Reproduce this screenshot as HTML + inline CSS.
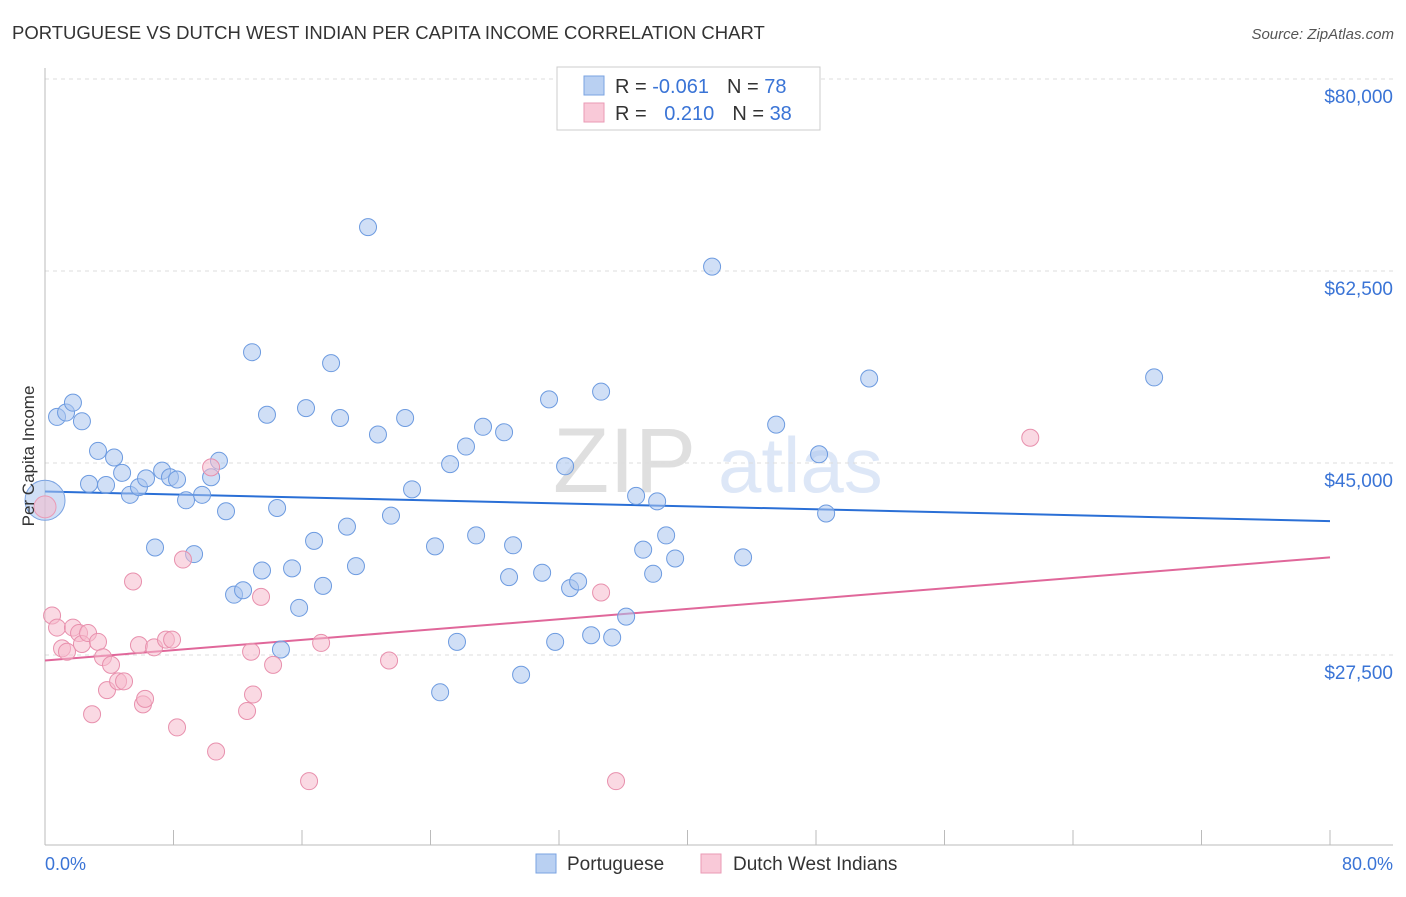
<!DOCTYPE html>
<html><head><meta charset="utf-8"><style>
body{margin:0;background:#fff;font-family:"Liberation Sans",sans-serif}
svg text{font-family:"Liberation Sans",sans-serif}
</style></head><body>
<svg id="chart" width="1406" height="892" xmlns="http://www.w3.org/2000/svg">
<text x="12" y="39" font-size="18.5" fill="#333">PORTUGUESE VS DUTCH WEST INDIAN PER CAPITA INCOME CORRELATION CHART</text>
<text x="1394" y="39" font-size="15" fill="#555" font-style="italic" text-anchor="end">Source: ZipAtlas.com</text>
<g opacity="0.18"><text x="553" y="492" font-size="92" font-family="Liberation Serif" fill="#555">ZIP</text><text x="718" y="492" font-size="78" fill="#4a7fd4">atlas</text></g>
<g id="grid"></g><g id="axes"></g><g id="trends"></g><g id="points"></g>
<text x="34" y="456" font-size="17" fill="#333" transform="rotate(-90 34 456)" text-anchor="middle">Per Capita Income</text>
<text x="45" y="870" font-size="18" fill="#3a74d6">0.0%</text>
<text x="1393" y="870" font-size="18" fill="#3a74d6" text-anchor="end">80.0%</text>
<g>
<rect x="557" y="67" width="263" height="63" fill="#fff" stroke="#ccc"/>
<rect x="584" y="76" width="20" height="19" fill="#b9d0f2" stroke="#7aa3e2"/>
<rect x="584" y="103" width="20" height="19" fill="#f9c9d8" stroke="#ea9ab5"/>
<text x="615" y="93" font-size="20" fill="#333">R = <tspan fill="#3a74d6">-0.061</tspan><tspan dx="18">N = </tspan><tspan fill="#3a74d6">78</tspan></text>
<text x="615" y="120" font-size="20" fill="#333">R = <tspan fill="#3a74d6" dx="12">0.210</tspan><tspan dx="18">N = </tspan><tspan fill="#3a74d6">38</tspan></text>
</g>
<g>
<rect x="536" y="854" width="20" height="19" fill="#b9d0f2" stroke="#7aa3e2"/>
<text x="567" y="870" font-size="19" fill="#333">Portuguese</text>
<rect x="701" y="854" width="20" height="19" fill="#f9c9d8" stroke="#ea9ab5"/>
<text x="733" y="870" font-size="19" fill="#333">Dutch West Indians</text>
</g>
</svg>
<script>
const yTicks=[27500,45000,62500,80000];
const yTickLabels=["$27,500","$45,000","$62,500","$80,000"];
const xTickValues=[0,8,16,24,32,40,48,56,64,72,80];
const blueX=[0.75,1.31,1.74,2.30,3.30,2.74,3.80,4.30,4.80,5.29,5.85,6.29,6.85,7.29,7.78,8.22,8.78,9.28,9.78,10.34,10.83,11.27,11.77,12.33,12.89,13.51,13.82,14.45,14.69,15.38,15.82,16.25,16.75,17.31,17.81,18.37,18.80,19.36,20.11,20.73,21.54,22.42,22.85,24.28,24.60,25.22,25.65,26.21,26.84,27.27,28.58,28.89,29.14,29.64,30.95,31.38,31.76,32.38,32.69,33.19,34.00,34.62,35.31,36.18,36.80,37.24,37.86,38.11,38.67,39.23,41.53,43.46,45.52,48.19,48.63,51.31,69.05];
const blueY=[49200,49600,50500,48800,46100,43100,43000,45500,44100,42100,42800,43600,37300,44300,43700,43500,41600,36700,42100,43700,45200,40600,33000,33400,55100,35200,49400,40900,28000,35400,31800,50000,37900,33800,54100,49100,39200,35600,66500,47600,40200,49100,42600,37400,24100,44900,28700,46500,38400,48300,47800,34600,37500,25700,35000,50800,28700,44700,33600,34200,29300,51500,29100,31000,42000,37100,34900,41500,38400,36300,62900,36400,48500,45800,40400,52700,52800];
const pinkX=[0.44,0.75,1.06,1.37,1.74,2.12,2.30,2.68,2.93,3.30,3.61,3.86,4.11,4.55,4.92,5.48,5.85,6.10,6.23,6.79,7.53,7.91,8.22,8.59,10.34,10.65,12.58,12.83,12.95,13.45,14.20,16.44,17.19,21.42,34.62,35.55,61.34];
const pinkY=[31100,30000,28100,27800,30000,29500,28500,29500,22100,28700,27300,24300,26600,25100,25100,34200,28400,23000,23500,28200,28900,28900,20900,36200,44600,18700,22400,27800,23900,32800,26600,16000,28600,27000,33200,16000,47300];
const bigBlue=[0,41600], bigPink=[0,41000];
const blueTrend=[42400,39700], pinkTrend=[27000,36400];
const NS="http://www.w3.org/2000/svg";
const sx=v=>45+v/80*1285, sy=v=>79+(80000-v)/17500*192;
function mk(tag,attrs,parent){const e=document.createElementNS(NS,tag);for(const k in attrs)e.setAttribute(k,attrs[k]);document.getElementById(parent).appendChild(e);return e;}
mk('line',{x1:45,y1:79,x2:1393,y2:79,stroke:'#ddd','stroke-dasharray':'4,4'},'grid');
yTicks.forEach((t,i)=>{
 const l=mk('line',{x1:45,y1:sy(t),x2:1393,y2:sy(t),stroke:'#ddd','stroke-dasharray':'4,4'},'grid');
 
 
 const tx=mk('text',{x:1393,y:sy(t)+24,'font-size':19,fill:'#3a74d6','text-anchor':'end'},'grid');
 tx.textContent=yTickLabels[i];
 
 
});
mk('line',{x1:45,y1:68,x2:45,y2:845,stroke:'#bbb'},'axes');
mk('line',{x1:45,y1:845,x2:1393,y2:845,stroke:'#bbb'},'axes');
xTickValues.forEach(v=>{const t=mk('line',{x1:sx(v),y1:830,x2:sx(v),y2:845,stroke:'#bbb'},'axes');
 
 });
function pt(x,y,r,fill,stroke,name){const c=mk('circle',{cx:sx(x),cy:sy(y),r:r,fill:fill,stroke:stroke,'stroke-width':1,'fill-opacity':0.55},'points');
 
 }
pt(bigBlue[0],bigBlue[1],20,'#a9c4ee','#7aa3e2','portuguese-point');
pt(bigPink[0],bigPink[1],11,'#f6b9cc','#ea9ab5','dutch-west-indian-point');
blueX.forEach((x,i)=>pt(x,blueY[i],8.5,'#a9c4ee','#6d9be0','portuguese-point'));
pinkX.forEach((x,i)=>pt(x,pinkY[i],8.5,'#f6b9cc','#e890ad','dutch-west-indian-point'));
const bt=mk('line',{x1:sx(0),y1:sy(blueTrend[0]),x2:sx(80),y2:sy(blueTrend[1]),stroke:'#2a6fd6','stroke-width':2},'trends');


const pl=mk('line',{x1:sx(0),y1:sy(pinkTrend[0]),x2:sx(80),y2:sy(pinkTrend[1]),stroke:'#e0679a','stroke-width':2},'trends');


</script>
</body></html>
